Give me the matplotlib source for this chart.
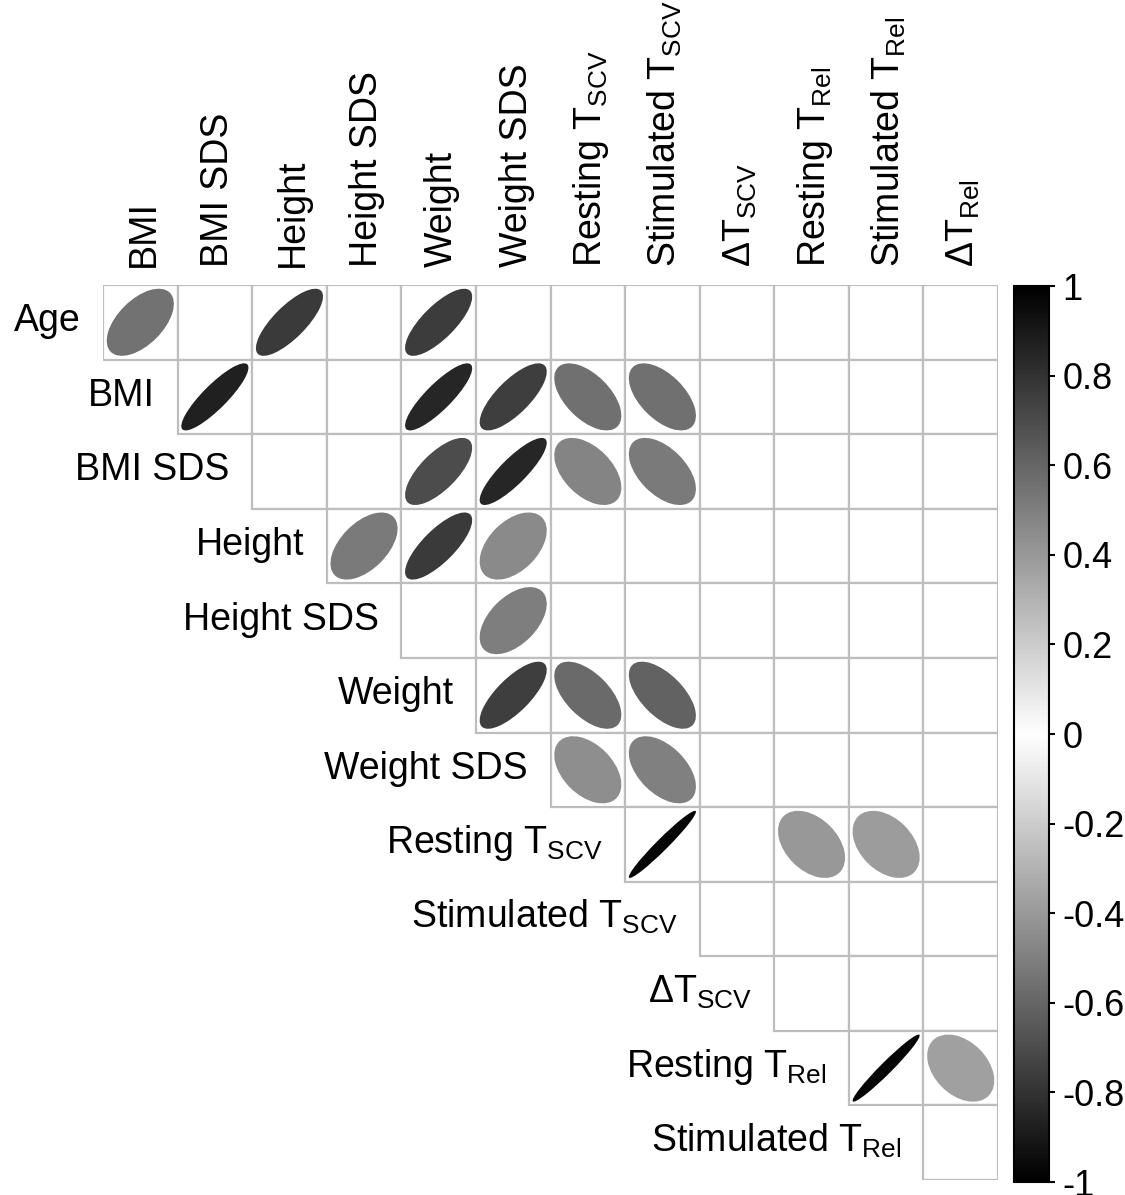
# Matriz de correlação (triângulo superior) com elipses, estilo corrplot
import numpy as np
import matplotlib.pyplot as plt
from matplotlib.patches import Ellipse, Rectangle
from matplotlib.colors import LinearSegmentedColormap
from matplotlib.cm import ScalarMappable
from matplotlib.colors import Normalize

plt.rcParams['font.family'] = ['Liberation Sans', 'DejaVu Sans']
plt.rcParams['mathtext.fontset'] = 'custom'
plt.rcParams['mathtext.rm'] = 'Liberation Sans'
plt.rcParams['mathtext.it'] = 'Liberation Sans'

# rótulos das linhas e colunas
linhas = ["Age", "BMI", "BMI SDS", "Height", "Height SDS", "Weight", "Weight SDS",
          r"Resting T$_{\mathregular{SCV}}$", r"Stimulated T$_{\mathregular{SCV}}$",
          r"ΔT$_{\mathregular{SCV}}$", r"Resting T$_{\mathregular{Rel}}$",
          r"Stimulated T$_{\mathregular{Rel}}$"]
colunas = ["BMI", "BMI SDS", "Height", "Height SDS", "Weight", "Weight SDS",
           r"Resting T$_{\mathregular{SCV}}$", r"Stimulated T$_{\mathregular{SCV}}$",
           r"ΔT$_{\mathregular{SCV}}$", r"Resting T$_{\mathregular{Rel}}$",
           r"Stimulated T$_{\mathregular{Rel}}$", r"ΔT$_{\mathregular{Rel}}$"]

# pares significativos: índice da linha, índice da coluna, correlação
par_linha = [0, 0, 0,
             1, 1, 1, 1, 1,
             2, 2, 2, 2,
             3, 3, 3,
             4,
             5, 5, 5,
             6, 6,
             7, 7, 7,
             10, 10]
par_coluna = [0, 2, 4,
              1, 4, 5, 6, 7,
              4, 5, 6, 7,
              3, 4, 5,
              5,
              5, 6, 7,
              6, 7,
              7, 9, 10,
              10, 11]
par_r = [0.55, 0.77, 0.76,
         0.87, 0.85, 0.75, -0.56, -0.56,
         0.70, 0.85, -0.48, -0.52,
         0.52, 0.77, 0.46,
         0.50,
         0.75, -0.58, -0.61,
         -0.44, -0.50,
         0.97, -0.40, -0.39,
         0.97, -0.37]

n = len(linhas)
cmap = LinearSegmentedColormap.from_list("bwb", ["black", "white", "black"])

fig = plt.figure(figsize=(11.25, 11.95), dpi=100)
W, H = 1125, 1195
ax = fig.add_axes([103 / W, (H - 1180) / H, 895 / W, 895 / H])
ax.set_xlim(0, n)
ax.set_ylim(0, n)
ax.axis("off")

# grade das células
for i in range(n):
    for j in range(i, n):
        ax.add_patch(Rectangle((j, n - 1 - i), 1, 1, facecolor="white",
                               edgecolor="#BEBEBE", lw=1.6, zorder=1))

# elipses
esc = 0.45
for i, j, r in zip(par_linha, par_coluna, par_r):
    d = np.arccos(r)
    a = 2 * esc * np.sqrt(2) * np.cos(d / 2)
    b = 2 * esc * np.sqrt(2) * np.sin(d / 2)
    ax.add_patch(Ellipse((j + 0.5, n - 1 - i + 0.5), a, b, angle=45,
                         facecolor=cmap((r + 1) / 2), edgecolor="none", zorder=2))

fs = 27
# rótulos das linhas
for i, nome in enumerate(linhas):
    ax.text(i - 0.3, n - 1 - i + 0.5 - 0.12, nome, ha="right", va="baseline",
            fontsize=fs, clip_on=False)

# rótulos das colunas
for j, nome in enumerate(colunas):
    ax.text(j + 0.5 + 0.18, n + 0.24, nome, rotation=90, rotation_mode="anchor",
            ha="left", va="baseline", fontsize=fs, clip_on=False)

# barra de cores
cax = fig.add_axes([1014 / W, (H - 1182) / H, 35 / W, 896 / H])
sm = ScalarMappable(norm=Normalize(-1, 1), cmap=cmap)
cb = fig.colorbar(sm, cax=cax)
ticks = np.round(np.arange(-1, 1.01, 0.2), 1)
cb.set_ticks(ticks)
cb.set_ticklabels(["-1", "-0.8", "-0.6", "-0.4", "-0.2", "0",
                   "0.2", "0.4", "0.6", "0.8", "1"])
cb.outline.set_linewidth(1.5)
cax.tick_params(labelsize=26, length=4.5, width=1.5, pad=5)

fig.savefig("out.png", dpi=100)
